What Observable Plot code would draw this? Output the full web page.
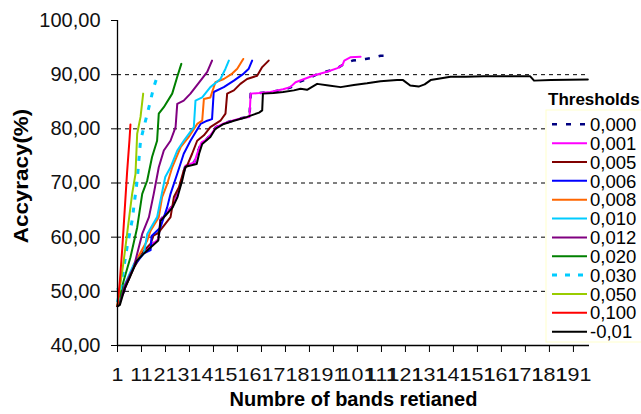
<!DOCTYPE html>
<html>
<head>
<meta charset="utf-8">
<script src="https://cdn.jsdelivr.net/npm/d3@7"></script>
<script src="https://cdn.jsdelivr.net/npm/@observablehq/plot@0.6"></script>
<style>
  html, body { margin: 0; padding: 0; background: #fff; }
  #chart { width: 641px; height: 414px; }
</style>
</head>
<body>
<div id="chart"></div>
<script>
// ---- Data (band index, accuracy %) ----
const t000 = [[1,47.3],[3,49.2],[6,52.8],[9,55.8],[12,57.2],[15,58.5],[18,59.6],[18.9,63.2],[21,64.2],[24,65.8],[26,67.8],[28,71],[29.3,73.2],[33,73.8],[34.5,75.8],[36,77.5],[38,78],[40,79],[42,80.3],[45.3,81],[49.5,81.6],[53,82],[56,82.2],[56.5,86.5],[60,86.6],[64.7,86.8],[70,87.2],[73,87.6],[75.2,88.4],[80,89.2],[85.3,90.3],[90,90.8],[93,91.3],[95.5,92],[97,92.3],[99,92.6],[104.4,92.9],[107,93.1],[110.6,93.5],[112,93.5]];
const t001 = [[1,47.3],[3,49.2],[6,52.8],[9,55.8],[12,57.2],[15,58.5],[18,59.6],[18.9,63.2],[21,64.2],[24,65.8],[26,67.8],[28,71],[29.3,73.2],[33,73.8],[34.5,75.8],[36,77.5],[38,78],[40,79],[42,80.3],[45.3,81],[49.5,81.6],[53,82],[56,82.2],[56.5,86.5],[60,86.6],[64.7,86.8],[70,87.3],[73,87.7],[75.2,88.6],[83,89.9],[88,90.5],[92.7,91.2],[94.8,91.8],[95.5,92.6],[98,93.2],[102.3,93.3]];
const t005 = [[1,47.3],[4,50.5],[8,54.5],[12,57.5],[14.8,58.8],[16,60.3],[18,60.8],[21,62.5],[23.1,63.7],[24.5,67.4],[26.6,69.2],[28.6,72.3],[30,73.2],[32.1,75.4],[34.2,77.8],[37,78.8],[39.7,80.3],[43.9,81.5],[46,82.8],[46.7,86.5],[49.5,87.1],[52.2,88.3],[55,89.2],[59.2,89.8],[61.3,91.4],[64,92.6]];
const t006 = [[1,47.3],[4,50.8],[8,54.8],[12,57],[14.8,57.6],[15.2,60.2],[18.9,61.8],[21.7,65.5],[23.1,68],[25.9,71.7],[28.6,75.4],[31.4,77.8],[35.6,80.9],[38.4,81.5],[40.4,81.8],[41.1,86.8],[45.3,87.7],[49.5,88.9],[53.6,90.2],[55.7,91.1],[57.1,92.6]];
const t008 = [[1,47.3],[4,51],[8,55],[11,57.5],[13.4,59.4],[14.8,61.2],[18.2,63.7],[19.6,67.4],[21.7,69.8],[23.8,72.9],[27.3,76.6],[30.7,78.5],[34.2,80.9],[36.3,81.5],[37,85.5],[39.7,85.8],[41.8,88.6],[45.3,89.2],[48.8,90.2],[50.9,91.1],[53.4,92.9]];
const t010 = [[1,50.5],[2,48.5],[4,51.2],[8,55.2],[12,57],[13.4,60.6],[17.5,63.7],[18.9,66.8],[20.9,71.1],[23.1,72.9],[25.9,76],[28.6,77.8],[32.8,80.3],[33.5,85.2],[36.3,85.8],[39.7,87.7],[43.9,89.2],[46,91.1],[47.4,92.6]];
const t012 = [[1,47.3],[4,51],[7.8,54.5],[11.3,60.6],[14.1,63.7],[16.1,68],[18.2,72.9],[20.3,76],[23.1,77.8],[25.2,80.3],[25.9,84.6],[28.6,85.2],[31.4,86.5],[35.6,88.9],[38.4,90.5],[40.4,92.6]];
const t020 = [[1,47.3],[3.6,52],[6.4,56.3],[9.2,61.8],[11.3,68],[13.4,70.5],[15.4,74.8],[17.5,77.8],[18.2,82.8],[20.3,84],[23.8,86.5],[25.9,89.6],[27.6,92]];
const t030 = [[1,48],[2.25,50.5],[5,58.2],[7.1,63.1],[9.2,70.5],[10.6,77.8],[12,80.3],[14.1,84],[16.1,87.7],[17.5,89.6]];
const t050 = [[1,47.5],[3.6,55.7],[5.7,63.1],[7.1,68],[8.5,71.7],[9.2,79.1],[10.6,82.2],[11.7,86.5]];
const t100 = [[1,47.3],[2,52],[3,58],[4,65],[5,72],[6,78],[6.4,80.8]];
const tneg = [[1,47.2],[2,47.5],[3,49],[4,50.5],[6,52.5],[9,55.6],[12,57],[15,58.2],[18,59.4],[18.9,63],[21,64],[24,65.5],[26,67.4],[28,70.5],[29.3,73],[31,73.2],[34,73.5],[35,75.4],[36.3,77.2],[39.7,78.5],[41.8,80],[45.3,80.9],[49.5,81.5],[55,82.2],[60,83],[61.3,83.4],[61.6,86.5],[66,86.6],[70,86.8],[74.5,87.1],[77.3,87.4],[80,87.2],[84.2,88.3],[89,88],[94,87.7],[99.5,88.1],[105,88.4],[110.6,88.8],[117.5,89],[120,89],[123,88],[126.5,87.8],[129,88.2],[131.5,89],[139.8,89.6],[146,89.6],[153.7,89.7],[173,89.7],[174.6,88.9],[181.6,89],[197,89.1]];

const seriesNames = ["0,000","0,001","0,005","0,006","0,008","0,010","0,012","0,020","0,030","0,050","0,100","-0,01"];
const seriesData = [t000,t001,t005,t006,t008,t010,t012,t020,t030,t050,t100,tneg];
const seriesColors = ["#000080","#FF00FF","#800000","#0000FF","#FF6600","#00CCFF","#800080","#008000","#00CCFF","#99CC00","#FF0000","#000000"];
const seriesDash = ["5,9",null,null,null,null,null,null,null,"5,8",null,null,null];
const seriesWidth = [2.5,2,2,2,2,2,2,2,3,2,2,2];

const xTicks = [1,11,21,31,41,51,61,71,81,91,101,111,121,131,141,151,161,171,181,191];
const yTicks = [40,50,60,70,80,90,100];
const gridY = [50,60,70,80,90];
const xTitle = "Numbre of bands retianed";
const yTitle = "Accyracy(%)";
const legendTitle = "Thresholds";

const FONT = "'Liberation Sans', Arial, sans-serif";

const lineMarks = seriesData.map((data, i) =>
  Plot.line(data, {
    x: d => d[0], y: d => d[1],
    stroke: seriesColors[i], strokeWidth: seriesWidth[i],
    strokeDasharray: seriesDash[i] || undefined,
    strokeLinejoin: "round", strokeLinecap: seriesDash[i] ? "butt" : "round"
  })
);

const chart = Plot.plot({
  width: 641, height: 414,
  marginLeft: 117, marginRight: 52, marginTop: 20, marginBottom: 69,
  style: {fontFamily: FONT, background: "white", color: "#111", overflow: "visible"},
  x: {domain: [1, 197.7], axis: null},
  y: {domain: [40, 100], axis: null},
  marks: [
    Plot.ruleY(gridY, {stroke: "#000", strokeDasharray: "4,4", strokeWidth: 1}),
    ...lineMarks,
    Plot.ruleX([1], {stroke: "#000", strokeWidth: 1.3}),
    Plot.ruleY([40], {stroke: "#000", strokeWidth: 1.3}),
    Plot.axisY({ticks: yTicks, tickSize: 6, tickPadding: 11, fontSize: 20, label: null,
      tickFormat: d => d.toFixed(2).replace(".", ","), stroke: "#000"}),
    Plot.axisX({ticks: xTicks, tickSize: 7, tickPadding: 15, fontSize: 19, label: null,
      tickFormat: d => String(d), stroke: "#000", className: "xticks"}),
    Plot.text([yTitle], {frameAnchor: "left", dx: -96, dy: -7, rotate: -90, textAnchor: "middle",
      lineAnchor: "middle", fontSize: 20, fontWeight: "bold", fill: "#000", className: "ytitle"}),
    Plot.text([xTitle], {frameAnchor: "bottom", dy: 60, fontSize: 20, fontWeight: "bold", fill: "#000"})
  ]
});

const svg = d3.select(chart);

// Legend overlay (drawn inside the SVG, on top of the plot)
const lg = svg.append("g").attr("font-family", FONT).attr("text-anchor", "start");
lg.append("text").attr("x", 548).attr("y", 105).attr("font-size", 17).attr("font-weight", "bold")
  .attr("fill", "#000").text(legendTitle);
lg.append("rect").attr("x", 546).attr("y", 110).attr("width", 100).attr("height", 232)
  .attr("fill", "#fff").attr("stroke", "#ffffcc").attr("stroke-width", 1);
seriesNames.forEach((name, i) => {
  const y = 124.3 + i * 18.85;
  lg.append("line").attr("x1", 552).attr("x2", 587).attr("y1", y).attr("y2", y)
    .attr("stroke", seriesColors[i]).attr("stroke-width", seriesWidth[i])
    .attr("stroke-dasharray", seriesDash[i]);
  lg.append("text").attr("x", 590).attr("y", y).attr("dy", "0.36em").attr("font-size", 18.5)
    .attr("fill", "#000").text(name);
});

document.getElementById("chart").appendChild(chart);

// Widen text horizontally where the reference font runs wider than Arial
function stretch(sel, k) {
  svg.selectAll(sel).each(function() {
    const w = this.getComputedTextLength();
    if (w > 0) {
      this.setAttribute("textLength", (w * k).toFixed(2));
      this.setAttribute("lengthAdjust", "spacingAndGlyphs");
    }
  });
}
stretch(".xticks text", 1.13);
stretch(".ytitle text", 1.12);
</script>
</body>
</html>
